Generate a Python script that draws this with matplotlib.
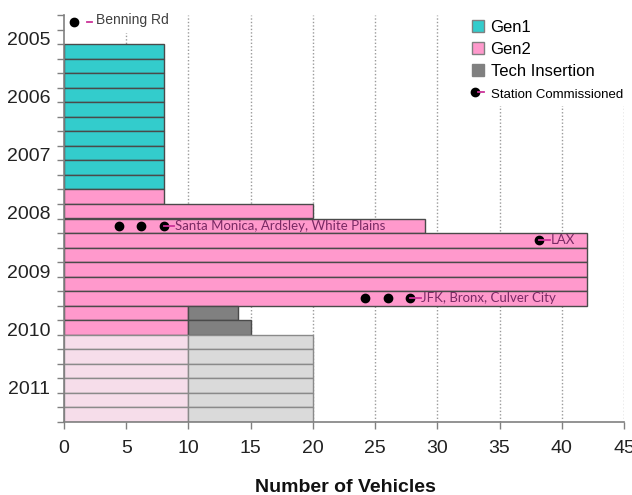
import matplotlib
matplotlib.use("Agg")
import matplotlib.pyplot as plt
from matplotlib.patches import Patch
from matplotlib.lines import Line2D
from matplotlib.legend_handler import HandlerTuple
import numpy as np

# ---------------- data ----------------
quarters = ['2004 Q3', '2004 Q4',
            '2005 Q1', '2005 Q2', '2005 Q3', '2005 Q4',
            '2006 Q1', '2006 Q2', '2006 Q3', '2006 Q4',
            '2007 Q1', '2007 Q2', '2007 Q3', '2007 Q4',
            '2008 Q1', '2008 Q2', '2008 Q3', '2008 Q4',
            '2009 Q1', '2009 Q2', '2009 Q3', '2009 Q4',
            '2010 Q1', '2010 Q2', '2010 Q3', '2010 Q4',
            '2011 Q1', '2011 Q2']
gen1 = [0, 0, 8, 8, 8, 8, 8, 8, 8, 8, 8, 8, 0, 0,
        0, 0, 0, 0, 0, 0, 0, 0, 0, 0, 0, 0, 0, 0]
gen2 = [0, 0, 0, 0, 0, 0, 0, 0, 0, 0, 0, 0, 8, 20,
        29, 42, 42, 42, 42, 42, 10, 10, 0, 0, 0, 0, 0, 0]
tech = [0, 0, 0, 0, 0, 0, 0, 0, 0, 0, 0, 0, 0, 0,
        0, 0, 0, 0, 0, 0, 4, 5, 0, 0, 0, 0, 0, 0]
gen2_planned = [0, 0, 0, 0, 0, 0, 0, 0, 0, 0, 0, 0, 0, 0,
                0, 0, 0, 0, 0, 0, 0, 0, 10, 10, 10, 10, 10, 10]
tech_planned = [0, 0, 0, 0, 0, 0, 0, 0, 0, 0, 0, 0, 0, 0,
                0, 0, 0, 0, 0, 0, 0, 0, 10, 10, 10, 10, 10, 10]

station_labels = ['Benning Rd', 'Santa Monica, Ardsley, White Plains',
                  'LAX', 'JFK, Bronx, Culver City']
station_quarters = ['2004 Q3', '2008 Q1', '2008 Q2', '2009 Q2']
station_x = [[0.8], [4.4, 6.2, 8.0], [38.2], [24.2, 26.0, 27.8]]

x_ticks = [0, 5, 10, 15, 20, 25, 30, 35, 40, 45]

# ---------------- style ----------------
TEAL = '#33CCCC'
PINK = '#FF99CC'
GRAY = '#808080'
PINK_L = '#F6DDEA'
GRAY_L = '#DADADA'
EDGE = '#4a4a4a'
EDGE_L = '#8a8a8a'
LBL = '#7A2A64'
DASH = '#CC3399'
FONT = 'Liberation Sans'

fig = plt.figure(figsize=(6.32, 4.95), dpi=100)
ax = fig.add_axes([64 / 632, 1 - 422 / 495, (624 - 64) / 632, (422 - 15) / 495])

n = len(quarters)
yc = np.arange(n) + 0.5


def bars(vals, left, color, edge, z=3):
    vals = np.asarray(vals, float)
    left = np.asarray(left, float)
    m = vals > 0
    ax.barh(yc[m], vals[m], left=left[m], height=1.0, color=color,
            edgecolor=edge, linewidth=1.0, zorder=z)


zeros = np.zeros(n)
bars(gen1, zeros, TEAL, EDGE)
bars(gen2, zeros, PINK, EDGE)
bars(tech, np.asarray(gen2, float), GRAY, EDGE)
bars(gen2_planned, zeros, PINK_L, EDGE_L)
bars(tech_planned, np.asarray(gen2_planned, float), GRAY_L, EDGE_L)

# station markers
for lab, q, xs in zip(station_labels, station_quarters, station_x):
    y = quarters.index(q) + 0.5
    ax.plot(xs, [y] * len(xs), 'o', color='black', ms=6, zorder=6)
    last = xs[-1]
    if q == '2004 Q3':
        ax.plot([last + 1.05, last + 1.45], [y, y], color=DASH, lw=1.3, zorder=8)
        ax.text(last + 1.75, y - 0.15, lab, color='#404040', fontsize=10,
                family=FONT, va='center', ha='left', zorder=7,
                bbox=dict(facecolor='white', edgecolor='none', pad=4))
    else:
        ax.plot([last, last + 0.85], [y, y], color=DASH, lw=1.3, zorder=6)
        ax.text(last + 0.9, y, lab, color=LBL, fontsize=9.5, family='Lato',
                va='center', ha='left', zorder=7)

# axes
ax.set_xlim(0, 45)
ax.set_ylim(n, 0)
ax.set_xticks(x_ticks)
ax.set_xticklabels([str(t) for t in x_ticks], fontsize=14,
                   family=FONT, color='#222222')
ax.set_yticks(np.arange(n + 1))
ax.set_yticklabels([])
ax.tick_params(axis='y', length=5, color=GRAY, width=1)
ax.tick_params(axis='x', length=5, color=GRAY, width=1, pad=8)

for i, q in enumerate(quarters):
    if q.endswith('Q1'):
        ax.text(-1.1, i - 0.25, q.split()[0], ha='right', va='center',
                fontsize=14, family=FONT, color='#222222', clip_on=False)

for t in x_ticks[1:]:
    ax.axvline(t, color='#9a9a9a', ls=(0, (1, 1.5)), lw=1.0, zorder=1)

for s in ['top', 'right']:
    ax.spines[s].set_visible(False)
for s in ['left', 'bottom']:
    ax.spines[s].set_color(GRAY)
    ax.spines[s].set_linewidth(1.2)
    ax.spines[s].set_zorder(5)

fig.text(345 / 632, 1 - 487 / 495, 'Number of Vehicles', fontsize=14,
         fontweight='bold', family=FONT, color='#111111', ha='center', va='center')

handles = [Patch(facecolor=TEAL, edgecolor=GRAY),
           Patch(facecolor=PINK, edgecolor=GRAY),
           Patch(facecolor=GRAY, edgecolor=GRAY),
           (Line2D([], [], marker='o', color='black', ls='none', ms=6),
            Line2D([], [], color=DASH, lw=1.3))]
labels = ['Gen1', 'Gen2', 'Tech Insertion', 'Station Commissioned']
leg = ax.legend(handles, labels, loc='upper left', bbox_to_anchor=(0.72, 1.0),
                frameon=True, fancybox=False, edgecolor='none', facecolor='white',
                framealpha=1, handlelength=0.7, handleheight=0.7, handletextpad=0.4,
                labelspacing=0.42, borderpad=0.3, borderaxespad=0,
                prop={'family': FONT, 'size': 12},
                handler_map={tuple: HandlerTuple(ndivide=None, pad=0)})
leg.set_zorder(8)
t4 = leg.get_texts()[3]
t4.set_fontsize(9.5)

fig.savefig('out.png', dpi=100, facecolor='white')
